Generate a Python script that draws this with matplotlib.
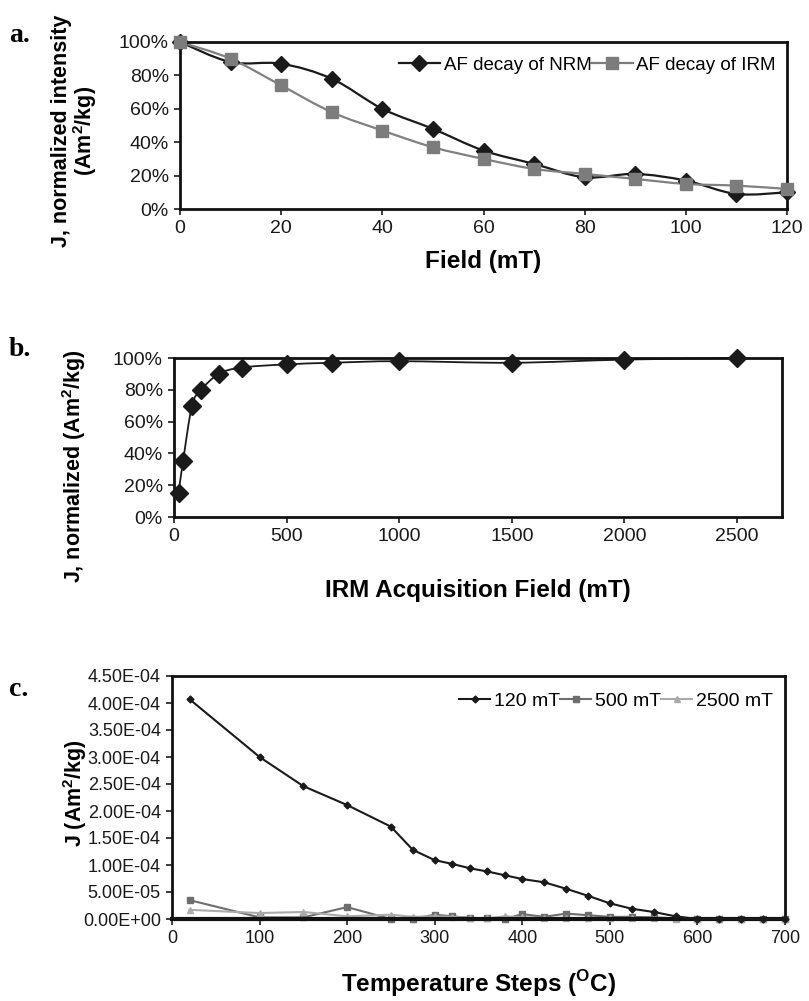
import matplotlib
matplotlib.use("Agg")
import matplotlib.pyplot as plt
from matplotlib.path import Path
from matplotlib.patches import PathPatch
from matplotlib.ticker import FuncFormatter, MultipleLocator

# ---- data ----
field_a = [0, 10, 20, 30, 40, 50, 60, 70, 80, 90, 100, 110, 120]
nrm_decay = [100, 88, 87, 78, 60, 48, 35, 27, 19, 21, 17, 9, 10]
irm_decay = [100, 90, 74, 58, 47, 37, 30, 24, 21, 18, 15, 14, 12]

field_b = [20, 40, 80, 120, 200, 300, 500, 700, 1000, 1500, 2000, 2500]
irm_acq = [15, 35, 70, 80, 90, 94, 96, 97, 98, 97, 99, 100]

temps = [20, 100, 150, 200, 250, 275, 300, 320, 340, 360, 380, 400, 425,
         450, 475, 500, 525, 550, 575, 600, 625, 650, 675, 700]
j_120 = [4.07e-4, 3.0e-4, 2.46e-4, 2.11e-4, 1.71e-4, 1.28e-4, 1.09e-4, 1.02e-4,
         0.94e-4, 0.88e-4, 0.81e-4, 0.74e-4, 0.68e-4, 0.56e-4, 0.43e-4, 0.29e-4,
         0.19e-4, 0.13e-4, 0.05e-4, 0, 0, 0, 0, 0]
j_500 = [0.35e-4, 0.03e-4, 0.03e-4, 0.22e-4, 0, 0, 0.08e-4, 0.05e-4, 0.02e-4,
         0.01e-4, 0, 0.09e-4, 0.04e-4, 0.10e-4, 0.07e-4, 0.04e-4, 0.04e-4,
         0.03e-4, 0.01e-4, 0, 0, 0, 0, 0]
j_2500 = [0.17e-4, 0.11e-4, 0.13e-4, 0.05e-4, 0.08e-4, 0.04e-4, 0.05e-4,
          0.04e-4, 0.02e-4, 0.01e-4, 0.05e-4, 0.03e-4, 0.02e-4, 0.02e-4,
          0.01e-4, 0.01e-4, 0.01e-4, 0.01e-4, 0, 0, 0, 0, 0, 0]

SANS = ['Liberation Sans', 'DejaVu Sans']
SERIF = ['Liberation Serif', 'DejaVu Serif']

plt.rcParams['font.family'] = SANS
plt.rcParams['mathtext.fontset'] = 'custom'
plt.rcParams['mathtext.rm'] = 'Liberation Sans'
plt.rcParams['mathtext.bf'] = 'Liberation Sans:bold'

W, H = 809, 1001
fig = plt.figure(figsize=(W / 100, H / 100), dpi=100)


def rect(x0, x1, ytop, ybot):
    return [x0 / W, 1 - ybot / H, (x1 - x0) / W, (ybot - ytop) / H]


def smooth(ax, xs, ys, color, lw):
    # Excel-like smoothed line: Catmull-Rom segments as cubic Bezier
    verts = [(xs[0], ys[0])]
    codes = [Path.MOVETO]
    n = len(xs)
    for i in range(n - 1):
        x0, y0 = xs[max(i - 1, 0)], ys[max(i - 1, 0)]
        x1, y1 = xs[i], ys[i]
        x2, y2 = xs[i + 1], ys[i + 1]
        x3, y3 = xs[min(i + 2, n - 1)], ys[min(i + 2, n - 1)]
        c1 = (x1 + (x2 - x0) / 6, y1 + (y2 - y0) / 6)
        c2 = (x2 - (x3 - x1) / 6, y2 - (y3 - y1) / 6)
        verts += [c1, c2, (x2, y2)]
        codes += [Path.CURVE4] * 3
    ax.add_patch(PathPatch(Path(verts, codes), facecolor='none',
                           edgecolor=color, lw=lw, clip_on=False, zorder=2))


def style(ax, size):
    for sp in ax.spines.values():
        sp.set_linewidth(2.0)
        sp.set_color('#111111')
    ax.tick_params(direction='out', length=4, width=1.2, labelsize=size,
                   top=False, right=False, pad=4, colors='#1a1a1a')


def labels(ax, xlab, xlab_y, ylab, ylab_x, ylab_y):
    ax.set_xlabel(xlab, fontsize=17.5, fontweight='bold')
    ax.xaxis.set_label_coords(0.5, xlab_y)
    ax.xaxis.label.set_va('center')
    ax.set_ylabel(ylab, fontsize=15.5, fontweight='bold', linespacing=1.0)
    ax.yaxis.set_label_coords(ylab_x, ylab_y)
    ax.yaxis.label.set_va('center')


pct = FuncFormatter(lambda v, p: f"{v:.0f}%")

# ---- panel a ----
ax = fig.add_axes(rect(180, 787, 42, 209))
smooth(ax, field_a, nrm_decay, '#1a1a1a', 1.6)
smooth(ax, field_a, irm_decay, '#808080', 1.6)
ax.plot(field_a, nrm_decay, linestyle='none', marker='D', ms=8, color='#1a1a1a',
        clip_on=False, zorder=3)
ax.plot(field_a, irm_decay, linestyle='none', marker='s', ms=8, color='#7c7c7c',
        clip_on=False, zorder=3)
h1, = ax.plot([], [], color='#1a1a1a', marker='D', ms=8, lw=1.6)
h2, = ax.plot([], [], color='#7c7c7c', marker='s', ms=8, lw=1.6)
ax.legend([h1, h2], ['AF decay of NRM', 'AF decay of IRM'], ncol=2, frameon=False,
          loc='upper right', bbox_to_anchor=(1.0, 0.98), fontsize=13.5,
          handlelength=2.2, columnspacing=0.0, handletextpad=0.2, borderaxespad=0.2)
ax.set_xlim(0, 120)
ax.set_ylim(0, 100)
ax.xaxis.set_major_locator(MultipleLocator(20))
ax.yaxis.set_major_locator(MultipleLocator(20))
ax.yaxis.set_major_formatter(pct)
style(ax, 14)
labels(ax, 'Field (mT)', -0.317,
       'J, normalized intensity\n(Am$^{\\mathbf{2}}$/kg)', -0.173, 0.467)
fig.text(9 / W, 1 - 35 / H, 'a.', fontsize=20, fontweight='bold', family=SERIF,
         va='center')

# ---- panel b ----
ax = fig.add_axes(rect(174, 782, 358, 517))
smooth(ax, field_b, irm_acq, '#1a1a1a', 1.3)
ax.plot(field_b, irm_acq, linestyle='none', marker='D', ms=9, color='#1a1a1a',
        clip_on=False, zorder=3)
ax.set_xlim(0, 2700)
ax.set_ylim(0, 100)
ax.xaxis.set_major_locator(MultipleLocator(500))
ax.yaxis.set_major_locator(MultipleLocator(20))
ax.yaxis.set_major_formatter(pct)
style(ax, 14)
labels(ax, 'IRM Acquisition Field (mT)', -0.4625,
       'J, normalized (Am$^{\\mathbf{2}}$/kg)', -0.164, 0.32)
fig.text(9 / W, 1 - 349 / H, 'b.', fontsize=20, fontweight='bold', family=SERIF,
         va='center')

# ---- panel c ----
ax = fig.add_axes(rect(172, 785, 676, 919))
ax.plot(temps, j_120, color='#1a1a1a', marker='D', ms=3.5, lw=1.5, label='120 mT',
        clip_on=False, zorder=3)
ax.plot(temps, j_500, color='#6e6e6e', marker='s', ms=4, lw=1.5, label='500 mT',
        clip_on=False, zorder=2)
ax.plot(temps, j_2500, color='#ababab', marker='^', ms=5, lw=1.5, label='2500 mT',
        clip_on=False, zorder=2)
ax.legend(ncol=3, frameon=False, loc='upper right', bbox_to_anchor=(1.0, 0.98),
          fontsize=14, handlelength=1.6, columnspacing=0.0, handletextpad=0.2,
          borderaxespad=0.2)
ax.set_xlim(0, 700)
ax.set_ylim(0, 4.5e-4)
ax.xaxis.set_major_locator(MultipleLocator(100))
ax.yaxis.set_major_locator(MultipleLocator(0.5e-4))
ax.yaxis.set_major_formatter(FuncFormatter(lambda v, p: f"{v:.2E}"))
style(ax, 13)
ax.spines['bottom'].set_linewidth(3.0)
labels(ax, 'Temperature Steps ($^{\\mathbf{O}}$C)', -0.267,
       'J (Am$^{\\mathbf{2}}$/kg)', -0.158, 0.52)
fig.text(9 / W, 1 - 690 / H, 'c.', fontsize=20, fontweight='bold', family=SERIF,
         va='center')

fig.savefig('out.png', dpi=100)
